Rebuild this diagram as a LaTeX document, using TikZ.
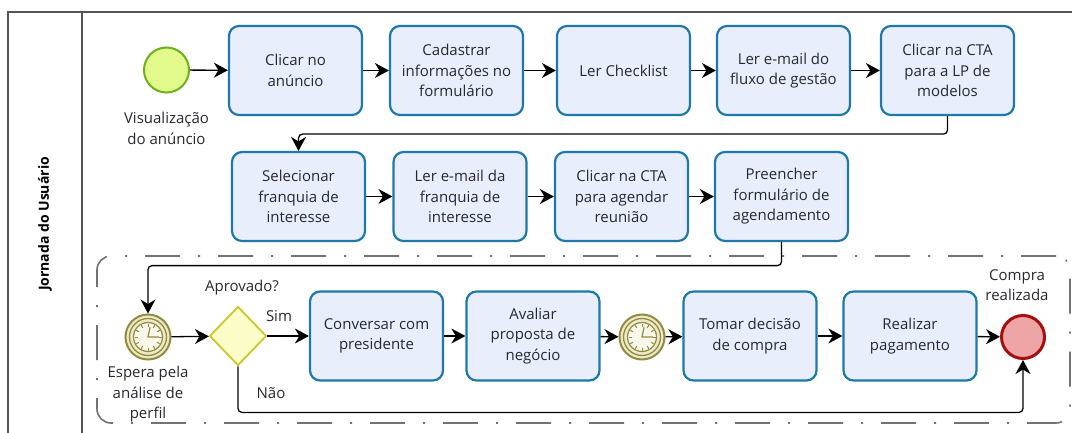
\documentclass[tikz,border=0pt]{standalone}
\usepackage{fontspec}
\setmainfont{Open Sans}
\usetikzlibrary{shapes.geometric,arrows.meta}
\definecolor{taskfill}{RGB}{233,238,252}
\definecolor{taskborder}{RGB}{30,120,168}
\definecolor{startfill}{RGB}{226,250,140}
\definecolor{startborder}{RGB}{110,175,30}
\definecolor{gwfill}{RGB}{252,252,200}
\definecolor{gwborder}{RGB}{200,200,40}
\definecolor{timerborder}{RGB}{145,140,65}
\definecolor{timerfill}{RGB}{238,234,200}
\definecolor{endfill}{RGB}{238,165,165}
\definecolor{endborder}{RGB}{165,15,15}
\definecolor{txt}{RGB}{40,40,50}
\definecolor{poolline}{RGB}{85,85,85}
\definecolor{subline}{RGB}{115,115,115}
\tikzset{
  txtfont/.style={font=\fontsize{15}{20.5}\selectfont, text=txt},
  task/.style={draw=taskborder, fill=taskfill, line width=2.2pt, rounded corners=10pt,
    minimum width=133pt, minimum height=89pt, inner sep=0pt, align=center, txtfont},
  startev/.style={circle, draw=startborder, fill=startfill, line width=2pt, minimum size=45pt, inner sep=0pt},
  endev/.style={circle, draw=endborder, fill=endfill, line width=3pt, minimum size=43pt, inner sep=0pt},
  timerev/.style={circle, draw=timerborder, fill=timerfill, line width=2pt, minimum size=45pt, inner sep=0pt},
  gateway/.style={diamond, draw=gwborder, fill=gwfill, line width=1.8pt, minimum width=57pt, minimum height=59pt, inner sep=0pt},
  lbl/.style={align=center, txtfont, inner sep=0pt},
  conn/.style={draw=black, line width=1.3pt, rounded corners=4pt, -{Stealth[length=14pt,width=15pt,inset=4.5pt]}},
  pool/.style={draw=poolline, line width=1.5pt},
  subproc/.style={draw=subline, line width=1.6pt, rounded corners=14pt,
    dash pattern=on 35pt off 18pt on 2pt off 18pt, minimum width=973pt, minimum height=167pt, inner sep=0pt},
}
\newcommand\clockdeco[1]{%
  \draw[timerborder, line width=1.3pt] (#1.center) circle[radius=18.5];
  \draw[timerborder, line width=1.2pt, fill=white!60!timerfill] (#1.center) circle[radius=14.5];
  \foreach \a in {0,30,...,330}
    \draw[timerborder, line width=1pt] ([shift={(\a:10.5)}]#1.center) -- ([shift={(\a:13.5)}]#1.center);
  \draw[timerborder, line width=1.2pt] ([shift={(0:11)}]#1.center) -- (#1.center) -- ([shift={(-78:10)}]#1.center);
}
\begin{document}
\begin{tikzpicture}[x=1pt,y=-1pt]
\useasboundingbox (0,0) rectangle (1072,433);
% pool
\draw[pool] (1072,12) -- (8,12) -- (8,433);
\draw[pool] (82,12) -- (82,433);
\node[rotate=90, font=\bfseries\fontsize{14}{16}\selectfont, text=black] (lane) at (45,224) {Jornada do Usuário};
% sub-process
\node[subproc] (sp) at (583.5,339.5) {};
% row 1
\node[startev] (s) at (166.5,70) {};
\node[lbl, anchor=north] (sl) at (166.5,112) {Visualização\\do anúncio};
\node[task] (b1) at (295.5,70.5) {Clicar no\\anúncio};
\node[task] (b2) at (456.5,70.5) {Cadastrar\\informações no\\formulário};
\node[task] (b3) at (623.5,70.5) {Ler Checklist};
\node[task] (b4) at (783.5,70.5) {Ler e-mail do\\fluxo de gestão};
\node[task] (b5) at (947.5,70.5) {Clicar na CTA\\para a LP de\\modelos};
% row 2
\node[task] (b6) at (298.5,196.5) {Selecionar\\franquia de\\interesse};
\node[task] (b7) at (460,196.5) {Ler e-mail da\\franquia de\\interesse};
\node[task] (b8) at (621.5,196.5) {Clicar na CTA\\para agendar\\reunião};
\node[task] (b9) at (781.5,196.5) {Preencher\\formulário de\\agendamento};
% row 3
\node[timerev] (t1) at (148,337) {};
\clockdeco{t1}
\node[lbl, anchor=north] (tl1) at (148,366) {Espera pela\\análise de\\perfil};
\node[gateway] (g) at (238,336) {};
\node[lbl] (gl) at (242,288) {Aprovado?};
\node[lbl] (sim) at (279,316) {Sim};
\node[lbl] (nao) at (271,393) {Não};
\node[task] (b10) at (376.5,336) {Conversar com\\presidente};
\node[task] (b11) at (533,336) {Avaliar\\proposta de\\negócio};
\node[timerev] (t2) at (642,337) {};
\clockdeco{t2}
\node[task] (b12) at (750,336) {Tomar decisão\\de compra};
\node[task] (b13) at (910,336) {Realizar\\pagamento};
\node[endev] (e) at (1023,337) {};
\node[lbl] (el) at (1017,285) {Compra\\realizada};
% connectors
\draw[conn] (s) -- (b1);
\draw[conn] (b1) -- (b2);
\draw[conn] (b2) -- (b3);
\draw[conn] (b3) -- (b4);
\draw[conn] (b4) -- (b5);
\draw[conn] (b5.south) -- ++(0,18) -| (b6.north);
\draw[conn] (b6) -- (b7);
\draw[conn] (b7) -- (b8);
\draw[conn] (b8) -- (b9);
\draw[conn] (b9.south) -- ++(0,23.5) -| (t1.north);
\draw[conn] (t1) -- (g);
\draw[conn] (g) -- (b10);
\draw[conn] (g.south) -- ++(0,46) -| (e.south);
\draw[conn] (b10) -- (b11);
\draw[conn] (b11) -- (t2);
\draw[conn] (t2) -- (b12);
\draw[conn] (b12) -- (b13);
\draw[conn] (b13) -- (e);
\end{tikzpicture}
\end{document}
